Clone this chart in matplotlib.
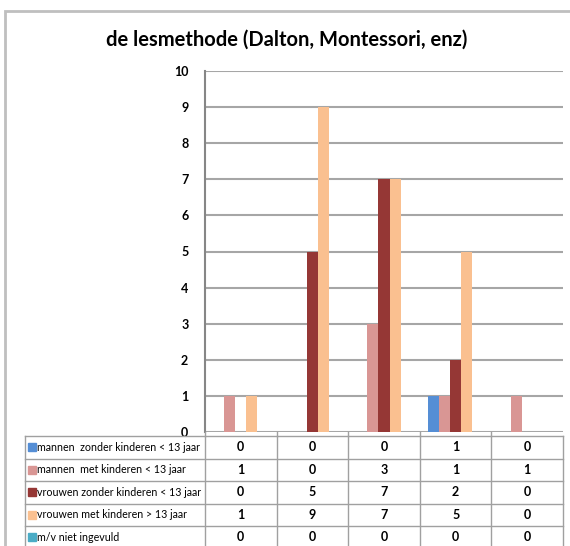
import matplotlib.pyplot as plt
from matplotlib.patches import Rectangle
import numpy as np

# data
title = "de lesmethode (Dalton, Montessori, enz)"
series_names = [
    "mannen  zonder kinderen < 13 jaar",
    "mannen  met kinderen < 13 jaar",
    "vrouwen zonder kinderen < 13 jaar",
    "vrouwen met kinderen > 13 jaar",
    "m/v niet ingevuld",
]
mannen_zonder = [0, 0, 0, 1, 0]
mannen_met = [1, 0, 3, 1, 1]
vrouwen_zonder = [0, 5, 7, 2, 0]
vrouwen_met = [1, 9, 7, 5, 0]
niet_ingevuld = [0, 0, 0, 0, 0]
series = [mannen_zonder, mannen_met, vrouwen_zonder, vrouwen_met, niet_ingevuld]
colors = ["#558ED5", "#D99694", "#953735", "#FAC090", "#4BACC6"]
yticks = list(range(0, 11))

plt.rcParams['font.family'] = ['Lato', 'DejaVu Sans']

W, H = 570, 546
fig = plt.figure(figsize=(W / 100, H / 100), dpi=100)

# outer frame
fig.patches.append(Rectangle((5 / W, -0.1), 1.2, 1 - 11 / H + 0.1, transform=fig.transFigure,
                             fill=False, edgecolor="#BFBFBF", linewidth=2))

ax_l, ax_r, ax_t, ax_b = 205, 563, 71, 432
ax = fig.add_axes([ax_l / W, 1 - ax_b / H, (ax_r - ax_l) / W, (ax_b - ax_t) / H])

n_cat = len(mannen_zonder)
x = np.arange(n_cat)
bw = 0.155
for i, (vals, c) in enumerate(zip(series, colors)):
    ax.bar(x + (i - 2) * bw, vals, width=bw, color=c, zorder=3)

ax.set_xlim(-0.5, n_cat - 0.5)
ax.set_ylim(0, 10)
ax.set_yticks(yticks)
ax.set_yticklabels([str(t) for t in yticks], fontsize=9, fontweight="bold")
ax.set_xticks([])
ax.yaxis.grid(True, color="#A6A6A6", linewidth=1.5, zorder=0)
for s in ["top", "right", "bottom"]:
    ax.spines[s].set_visible(False)
ax.spines["left"].set_color("#868686")
ax.spines["left"].set_linewidth(1.5)
ax.tick_params(axis="y", length=0, pad=12)

fig.text(287 / W, 1 - 40 / H, title, ha="center", va="center", fontsize=14.5, fontweight="bold")

# data table
tab_top = 436
row_h = 22.5
tab_left = 25
col_w = (ax_r - ax_l) / n_cat
line_c = "#A0A0A0"

def fx(px):
    return px / W

def fy(py):
    return 1 - py / H

n_rows = len(series)
for r in range(n_rows + 1):
    yy = tab_top + r * row_h
    fig.add_artist(plt.Line2D([fx(tab_left), fx(ax_r)], [fy(yy), fy(yy)], color=line_c, linewidth=1))
col_edges = [tab_left, ax_l] + [ax_l + (k + 1) * col_w for k in range(n_cat)]
for xx in col_edges:
    fig.add_artist(plt.Line2D([fx(xx), fx(xx)], [fy(tab_top), fy(tab_top + n_rows * row_h + 5)],
                              color=line_c, linewidth=1))
for k in range(n_cat):
    xx = ax_l + k * col_w
    fig.add_artist(plt.Line2D([fx(xx), fx(xx)], [fy(ax_b), fy(tab_top)], color=line_c, linewidth=1))

for r, (name, vals, c) in enumerate(zip(series_names, series, colors)):
    yc = tab_top + (r + 0.5) * row_h
    fig.patches.append(Rectangle((fx(tab_left + 3), fy(yc + 4)), 8 / W, 8 / H,
                                 transform=fig.transFigure, color=c))
    fig.text(fx(tab_left + 12), fy(yc), name, ha="left", va="center", fontsize=7.7)
    for k, v in enumerate(vals):
        fig.text(fx(ax_l + (k + 0.5) * col_w), fy(yc), str(v), ha="center", va="center",
                 fontsize=9, fontweight="bold")

fig.savefig("out.png", dpi=100)
